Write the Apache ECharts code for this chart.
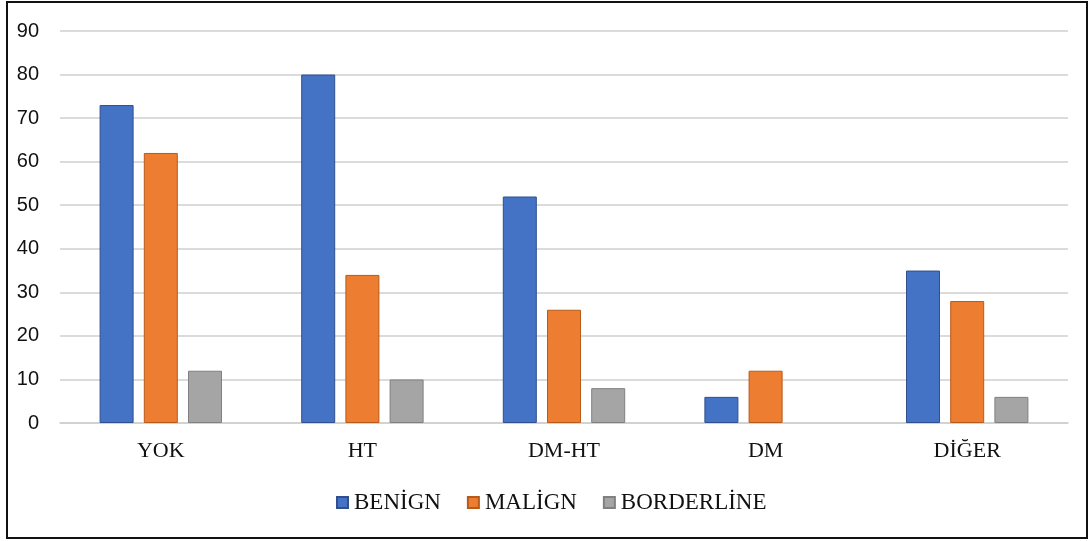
<!DOCTYPE html>
<html>
<head>
<meta charset="utf-8">
<script src="https://cdn.jsdelivr.net/npm/echarts@6/dist/echarts.min.js"></script>
<style>
  html, body { margin: 0; padding: 0; background: #fff; }
  .frame {
    position: absolute; left: 6px; top: 1px; width: 1078px; height: 534px;
    border: 2px solid #111; box-sizing: content-box;
  }
  .chart { width: 1090px; height: 541px; position: absolute; left: 0; top: 0; }
</style>
</head>
<body>
<div class="frame"></div>
<div class="chart"></div>
<script>
// 数据
const categories = ["YOK", "HT", "DM-HT", "DM", "DİĞER"];
const benign = [73, 80, 52, 6, 35];
const malign = [62, 34, 26, 12, 28];
const borderline = [12, 10, 8, 0, 6];

// 值为0的柱子不画边框
function toItems(arr) {
  return arr.map(function (v) {
    return v === 0 ? { value: v, itemStyle: { borderWidth: 0 } } : v;
  });
}

function setBar() {
  let myChart = echarts.init(document.querySelector(".chart"));
  const serif = "'Liberation Serif', 'Times New Roman', serif";
  const sans = "'Liberation Sans', Arial, sans-serif";
  let option = {
    animation: false,
    grid: {
      top: 31,
      bottom: 118,
      left: 60,
      right: 22,
    },
    legend: {
      bottom: 22,
      left: 331,
      icon: "rect",
      itemWidth: 11,
      itemHeight: 11,
      itemGap: 26,
      textStyle: { fontFamily: serif, fontSize: 23, color: "#111", padding: [0, 0, 0, 1] },
      data: ["BENİGN", "MALİGN", "BORDERLİNE"],
    },
    xAxis: {
      type: "category",
      data: categories,
      axisTick: { show: false },
      axisLine: { lineStyle: { color: "#cfcfcf", width: 1.5 } },
      axisLabel: { fontFamily: serif, fontSize: 22, color: "#111", margin: 17 },
    },
    yAxis: {
      type: "value",
      min: 0,
      max: 90,
      interval: 10,
      axisLine: { show: false },
      axisTick: { show: false },
      splitLine: { lineStyle: { color: "#cfcfcf", width: 1.5 } },
      axisLabel: { fontFamily: sans, fontSize: 20, color: "#111", margin: 21 },
    },
    series: [
      {
        name: "BENİGN",
        type: "bar",
        barWidth: 34,
        barGap: "30%",
        itemStyle: { color: "#4472C4", borderColor: "#2F4F8F", borderWidth: 1 },
        data: toItems(benign),
      },
      {
        name: "MALİGN",
        type: "bar",
        barWidth: 34,
        itemStyle: { color: "#ED7D31", borderColor: "#B85A1A", borderWidth: 1 },
        data: toItems(malign),
      },
      {
        name: "BORDERLİNE",
        type: "bar",
        barWidth: 34,
        itemStyle: { color: "#A5A5A5", borderColor: "#808080", borderWidth: 1 },
        data: toItems(borderline),
      },
    ],
  };
  myChart.setOption(option);
}
//调用
setBar();
</script>
</body>
</html>
